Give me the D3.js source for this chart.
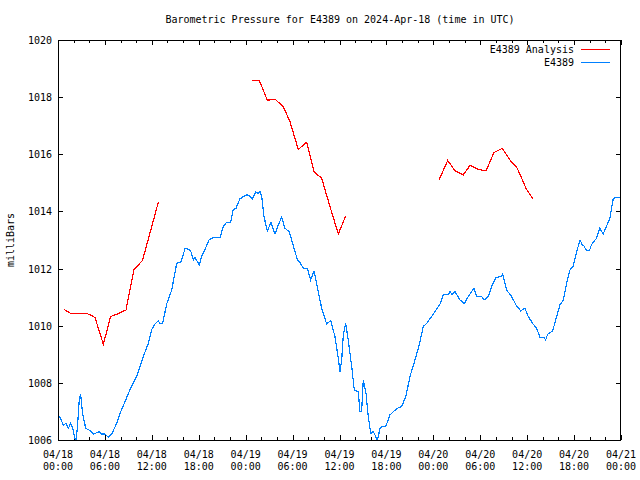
<!DOCTYPE html>
<html>
<head>
<meta charset="utf-8">
<script src="https://cdn.jsdelivr.net/npm/d3@7"></script>
<style>
html,body{margin:0;padding:0;background:#fff;}
svg{display:block;}
text{font-family:"DejaVu Sans Mono",monospace;font-size:10px;fill:#000;}
</style>
</head>
<body>
<svg id="chart" width="640" height="480"></svg>
<script>
// ---- data (hours since 2024-04-18 00:00 UTC) ----
const title = "Barometric Pressure for E4389 on 2024-Apr-18 (time in UTC)";
const yLabel = "milliBars";
const seriesNames = ["E4389 Analysis", "E4389"];
const startTime = Date.UTC(2024, 3, 18, 0, 0);
const endTime = Date.UTC(2024, 3, 21, 0, 0);
const yTicks = [1006, 1008, 1010, 1012, 1014, 1016, 1018, 1020];

// Analysis series (null = gap)
const analysisHours = [
  0.77, 1.62, 3.66, 4.09, 4.73, 5.8, 6.73, 7.5, 8.7, 9.72, 10.8, 12.83,
  null,
  24.85, 25.74, 26.77, 27.75, 28.8, 29.67, 30.73, 31.8, 32.74, 33.72, 34.78, 35.85, 36.79,
  null,
  48.76, 49.83, 50.77, 51.83, 52.69, 53.75, 54.73, 55.76, 56.82, 57.8, 58.74, 59.85, 60.78
];
const analysisValues = [
  1010.57, 1010.43, 1010.43, 1010.38, 1010.29, 1009.35, 1010.32, 1010.40, 1010.55, 1011.97, 1012.28, 1014.32,
  null,
  1018.59, 1018.59, 1017.89, 1017.93, 1017.67, 1017.14, 1016.17, 1016.42, 1015.39, 1015.16, 1014.17, 1013.21, 1013.84,
  null,
  1015.12, 1015.78, 1015.43, 1015.28, 1015.61, 1015.47, 1015.42, 1016.06, 1016.21, 1015.80, 1015.51, 1014.81, 1014.42
];

// Station series
const stationHours = [
  0.0, 0.26, 0.68, 1.02, 1.32, 1.62, 1.88, 2.17, 2.3, 2.52, 2.72, 2.9, 3.11, 3.54, 4.09, 4.52, 5.28, 5.59, 6.01, 6.43, 6.87,
  7.5, 8.02, 8.57, 9.21, 10.14, 10.91, 11.55, 11.98, 12.4, 12.83, 13.04, 13.38, 13.9, 14.54, 15.18, 15.73,
  16.24, 16.54, 16.97, 17.31, 17.52, 18.07, 18.38, 18.8, 19.35, 19.95, 20.72, 21.14, 21.57, 22.08, 22.42,
  22.76, 23.27, 23.7, 24.13, 24.5, 24.85, 25.28, 25.62, 25.83, 26.05, 26.34, 26.77, 27.24, 27.75, 28.18,
  28.6, 29.03, 29.58, 30.01, 30.6, 30.95, 31.37, 31.88, 32.31, 32.74, 33.16, 33.72, 34.36, 34.87, 35.42,
  35.85, 36.06, 36.28, 36.49, 36.79, 37.12, 37.56, 37.89, 38.4, 38.62, 38.83, 39.04, 39.39, 39.68, 39.99,
  40.32, 40.54, 40.83, 41.18, 41.39, 41.94, 42.46, 42.88, 43.39, 43.95, 44.5, 45.01, 45.65, 46.2, 46.71,
  47.14, 47.78, 48.42, 48.85, 49.27, 49.91, 50.13, 50.4, 50.77, 51.41, 51.96, 52.6, 53.2, 53.54, 54.18,
  54.48, 55.02, 55.46, 56.01, 56.73, 56.86, 57.37, 58.01, 58.57, 59.17, 59.72, 60.14, 60.78, 61.21, 61.64,
  62.15, 62.36, 62.62, 63.26, 63.77, 64.19, 64.62, 65.05, 65.47, 65.9, 66.33, 66.76, 67.05, 67.26, 67.61,
  67.95, 68.22, 68.86, 69.29, 69.71, 70.22, 70.57, 70.99, 71.29, 71.9
];
const stationValues = [
  1006.85, 1006.79, 1006.52, 1006.58, 1006.41, 1006.58, 1006.41, 1006.06, 1005.9, 1006.58, 1007.4, 1007.6, 1006.99, 1006.41, 1006.33, 1006.21, 1006.29, 1006.21, 1006.21, 1006.09, 1006.21,
  1006.58, 1006.99, 1007.34, 1007.77, 1008.27, 1008.92, 1009.38, 1009.87, 1010.06, 1010.17, 1010.08, 1010.08, 1010.76, 1011.25, 1012.18, 1012.24,
  1012.69, 1012.69, 1012.62, 1012.30, 1012.39, 1012.13, 1012.44, 1012.67, 1013.02, 1013.09, 1013.09, 1013.47, 1013.62, 1013.62, 1014.07,
  1014.11, 1014.44, 1014.52, 1014.58, 1014.55, 1014.42, 1014.69, 1014.63, 1014.69, 1014.52, 1013.82, 1013.32, 1013.61, 1013.21, 1013.53,
  1013.79, 1013.41, 1013.29, 1012.88, 1012.32, 1012.21, 1012.01, 1012.01, 1011.60, 1011.91, 1011.37, 1010.61, 1010.06, 1010.18, 1009.62,
  1008.86, 1008.39, 1008.80, 1009.68, 1010.08, 1009.50, 1008.57, 1007.75, 1007.69, 1006.99, 1006.99, 1008.10, 1007.63, 1006.82, 1006.23,
  1006.29, 1006.18, 1005.95, 1006.41, 1006.47, 1006.49, 1006.88, 1006.99, 1007.11, 1007.17, 1007.54, 1008.22, 1008.80, 1009.33, 1009.97,
  1010.08, 1010.32, 1010.58, 1010.76, 1011.08, 1011.10, 1011.19, 1011.10, 1011.19, 1010.90, 1010.78, 1011.08, 1011.31, 1011.02, 1011.02,
  1010.90, 1011.02, 1011.37, 1011.69, 1011.72, 1011.80, 1011.25, 1011.02, 1010.73, 1010.52, 1010.61, 1010.32, 1010.05, 1009.91, 1009.60,
  1009.60, 1009.50, 1009.70, 1009.82, 1010.32, 1010.73, 1010.90, 1011.48, 1011.95, 1012.09, 1012.59, 1013.00, 1012.83, 1012.79, 1012.62,
  1012.62, 1012.83, 1013.06, 1013.41, 1013.21, 1013.53, 1013.76, 1014.42, 1014.49, 1014.49
];

const colors = ["#ff0000", "#0080ff"];

// ---- chart ----
const svg = d3.select("#chart");
const L = 58, R = 621, T = 40, B = 440;
const toDate = h => new Date(startTime + h * 3600000);

const x = d3.scaleUtc().domain([new Date(startTime), new Date(endTime)]).range([L, R]);
const y = d3.scaleLinear().domain([1006, 1020]).range([B, T]);

svg.append("defs").append("clipPath").attr("id", "clip")
  .append("rect").attr("x", L).attr("y", T).attr("width", R - L).attr("height", B - T);

// title
svg.append("text").attr("x", 340).attr("y", 23).attr("text-anchor", "middle").text(title);

// y label
svg.append("text").attr("transform", "translate(14,240) rotate(-90)")
  .attr("text-anchor", "middle").text(yLabel);

// ticks
const g = svg.append("g").attr("shape-rendering", "crispEdges");
const minor = d3.utcHour.every(2).range(new Date(startTime), new Date(endTime + 1));
const major = d3.utcHour.every(6).range(new Date(startTime), new Date(endTime + 1));
minor.forEach(d => {
  const px = Math.round(x(d)) + 0.5;
  const len = (d.getUTCHours() % 6 === 0) ? 5 : 3;
  g.append("line").attr("x1", px).attr("x2", px).attr("y1", B).attr("y2", B - len).attr("stroke", "#000");
  g.append("line").attr("x1", px).attr("x2", px).attr("y1", T).attr("y2", T + len).attr("stroke", "#000");
});
const fmtDate = d3.utcFormat("%m/%d"), fmtTime = d3.utcFormat("%H:%M");
major.forEach(d => {
  const px = x(d);
  const t = g.append("text").attr("x", px).attr("text-anchor", "middle");
  t.append("tspan").attr("x", px).attr("y", 458).text(fmtDate(d));
  t.append("tspan").attr("x", px).attr("y", 470).text(fmtTime(d));
});
yTicks.forEach(v => {
  const py = Math.round(y(v)) + 0.5;
  g.append("line").attr("x1", L).attr("x2", L + 5).attr("y1", py).attr("y2", py).attr("stroke", "#000");
  g.append("line").attr("x1", R).attr("x2", R - 5).attr("y1", py).attr("y2", py).attr("stroke", "#000");
  g.append("text").attr("x", 52).attr("y", py + 3.5).attr("text-anchor", "end").text(v);
});

// lines
const analysis = analysisHours.map((h, i) => ({h, v: analysisValues[i]}));
const station = stationHours.map((h, i) => ({h, v: stationValues[i]}));
const line = d3.line().defined(d => d.h !== null && d.v !== null)
  .x(d => x(toDate(d.h))).y(d => y(d.v));

const plot = svg.append("g").attr("clip-path", "url(#clip)").attr("shape-rendering", "crispEdges");
plot.append("path").datum(station).attr("d", line).attr("fill", "none")
  .attr("stroke", colors[1]).attr("stroke-width", 1.2);
plot.append("path").datum(analysis).attr("d", line).attr("fill", "none")
  .attr("stroke", colors[0]).attr("stroke-width", 1.2);

// frame
svg.append("rect").attr("x", L + 0.5).attr("y", T + 0.5).attr("width", R - L - 1).attr("height", B - T)
  .attr("fill", "none").attr("stroke", "#000").attr("shape-rendering", "crispEdges");

// legend
seriesNames.forEach((name, i) => {
  const ly = 49.5 + i * 13;
  svg.append("text").attr("x", 574).attr("y", ly + 3.5).attr("text-anchor", "end").text(name);
  svg.append("line").attr("x1", 581).attr("x2", 610).attr("y1", ly).attr("y2", ly)
    .attr("stroke", colors[i]).attr("stroke-width", 1).attr("shape-rendering", "crispEdges");
});
</script>
</body>
</html>
